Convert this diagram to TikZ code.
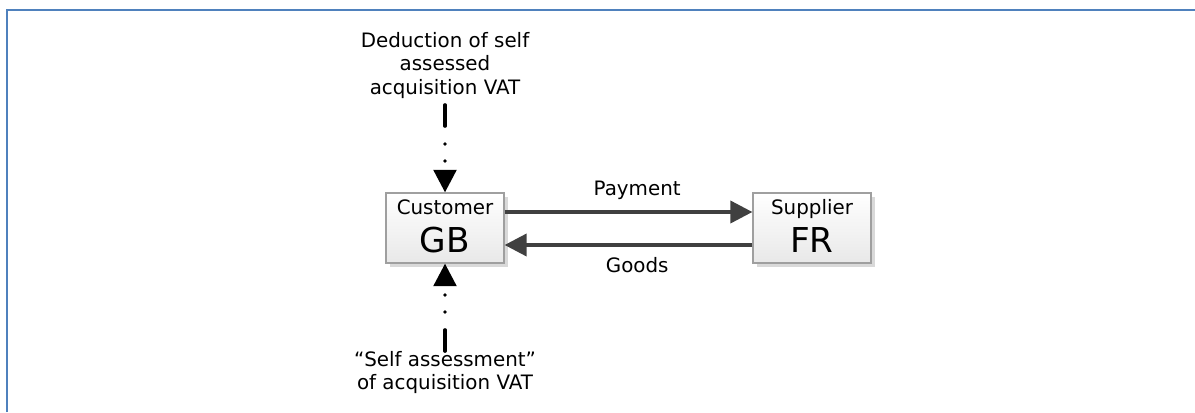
\documentclass[tikz,border=0pt]{standalone}
\usepackage{fontspec}
\setmainfont{DejaVu Sans}
\usepackage{tikz}
\usetikzlibrary{positioning,shadows,arrows.meta}

\definecolor{frameblue}{HTML}{4F81BD}
\definecolor{flowgray}{HTML}{404040}

\begin{document}
\begin{tikzpicture}[x=0.02cm, y=-0.02cm,
    party/.style={draw=gray!75, line width=0.7pt, top color=white, bottom color=gray!18,
        minimum width=2.36cm, minimum height=1.4cm,
        drop shadow={shadow xshift=0.08cm, shadow yshift=-0.08cm, fill=black!25, opacity=0.6}},
    small/.style={font=\fontsize{11.3}{13.4}\selectfont, inner sep=0pt},
    big/.style={font=\fontsize{19.5}{22}\selectfont, inner sep=0pt},
    note/.style={small, align=center},
    flow/.style={draw=flowgray, line width=2.1pt, -{Triangle[length=0.44cm, width=0.44cm]}},
    vat/.style={line width=2.1pt, line cap=round,
        dash pattern=on 0.42cm off 0.36cm on 0pt off 0.34cm on 0pt off 0.34cm,
        -{Triangle[length=0.45cm, width=0.45cm]}}
]
    \useasboundingbox (0,0) rectangle (1195,412);

    % Frame
    \draw[frameblue, line width=1.6pt] (7,412) -- (7,10) -- (1195,10);

    % Parties
    \node[party] (cust) at (445,228) {};
    \node[party] (supp) at (812,228) {};
    \node[small, anchor=base] (custname) at ([yshift=0.28cm]cust.center) {Customer};
    \node[big, anchor=base] (custcode) at ([yshift=-0.5cm]cust.center) {GB};
    \node[small, anchor=base] (suppname) at ([yshift=0.28cm]supp.center) {Supplier};
    \node[big, anchor=base] (suppcode) at ([yshift=-0.5cm]supp.center) {FR};

    % Payment and goods
    \draw[flow] ([yshift=0.32cm]cust.east) -- node[small, above=0.22cm, pos=0.535] (paylabel) {Payment} ([yshift=0.32cm]supp.west);
    \draw[flow] ([yshift=-0.34cm]supp.west) -- node[small, below=0.22cm, pos=0.465] (goodslabel) {Goods} ([yshift=-0.34cm]cust.east);

    % VAT notes
    \node[note, anchor=south] (deduct) at (445,99) {Deduction of self\\assessed\\acquisition VAT};
    \node[note, anchor=north] (assess) at (445,351) {“Self assessment”\\of acquisition VAT};
    \draw[vat, shorten <=0.12cm] (deduct.south) -- (cust.north);
    \draw[vat] (assess.north) -- (cust.south);
\end{tikzpicture}
\end{document}
